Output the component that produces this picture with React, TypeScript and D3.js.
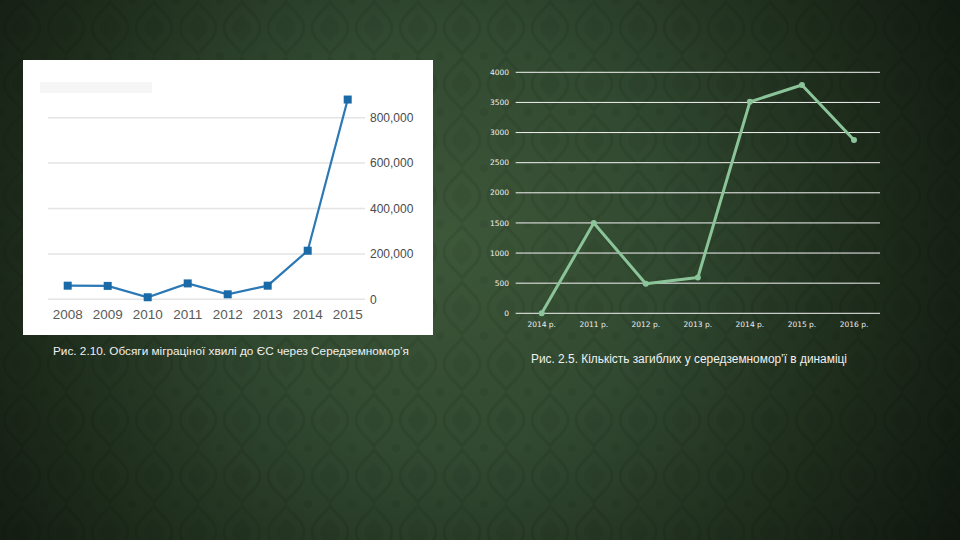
import React from 'react';
import * as d3 from 'd3';

const yearsL = ['2008', '2009', '2010', '2011', '2012', '2013', '2014', '2015'];
const arrivals = [60000, 59000, 9000, 70000, 22000, 60000, 214000, 880000];
const ticksL = [0, 200000, 400000, 600000, 800000];

const labelsR = ['2014 р.', '2011 р.', '2012 р.', '2013 р.', '2014 р.', '2015 р.', '2016 р.'];
const deaths = [0, 1500, 490, 595, 3510, 3790, 2875];
const ticksR = [0, 500, 1000, 1500, 2000, 2500, 3000, 3500, 4000];

const captionL = 'Рис. 2.10. Обсяги міграціної хвилі до ЄС через Середземномор’я';
const captionR = 'Рис. 2.5. Кількість загиблих у середземномор’ї в динаміці';

export default function App() {
  const xL = d3.scalePoint<string>().domain(yearsL).range([67.7, 347.7]);
  const yL = d3.scaleLinear().domain([0, 800000]).range([299.3, 117.7]);
  const lineL = d3
    .line<number>()
    .x((_, i) => xL(yearsL[i]) as number)
    .y((d) => yL(d));

  const idxR = d3.range(labelsR.length);
  const xR = d3.scalePoint<number>().domain(idxR).range([541.7, 854]);
  const yR = d3.scaleLinear().domain([0, 4000]).range([313.3, 72.3]);
  const lineR = d3
    .line<number>()
    .x((_, i) => xR(i) as number)
    .y((d) => yR(d));

  const fmt = d3.format(',');

  return (
    <svg
      width={960}
      height={540}
      viewBox="0 0 960 540"
      style={{ position: 'absolute', left: 0, top: 0, display: 'block' }}
    >
      <defs>
        <radialGradient id="vig" cx="450" cy="240" r="620" gradientUnits="userSpaceOnUse">
          <stop offset="0" stopColor="#3d5739" />
          <stop offset="0.35" stopColor="#314930" />
          <stop offset="0.65" stopColor="#1f2e1d" />
          <stop offset="1" stopColor="#0d130c" />
        </radialGradient>
        <pattern id="damask" width="44" height="56" patternUnits="userSpaceOnUse">
          <path
            d="M22 2 C30 12 40 18 40 28 C40 38 30 44 22 54 C14 44 4 38 4 28 C4 18 14 12 22 2 Z"
            fill="none"
            stroke="#000"
            strokeOpacity="0.08"
            strokeWidth="3"
          />
          <path
            d="M22 14 C27 20 32 24 32 28 C32 32 27 36 22 42 C17 36 12 32 12 28 C12 24 17 20 22 14 Z"
            fill="#000"
            fillOpacity="0.05"
          />
          <circle cx="0" cy="0" r="4" fill="#000" fillOpacity="0.06" />
          <circle cx="44" cy="0" r="4" fill="#000" fillOpacity="0.06" />
          <circle cx="0" cy="56" r="4" fill="#000" fillOpacity="0.06" />
          <circle cx="44" cy="56" r="4" fill="#000" fillOpacity="0.06" />
        </pattern>
      </defs>

      <rect x={0} y={0} width={960} height={540} fill="url(#vig)" />
      <rect x={0} y={0} width={960} height={540} fill="url(#damask)" />

      {/* Left image-chart */}
      <rect x={23} y={60} width={410} height={275} fill="#ffffff" />
      <rect x={40} y={82} width={112} height={11} fill="#f6f6f6" />
      <g>
        {ticksL.map((t) => (
          <g key={t}>
            <line x1={48} x2={365} y1={yL(t)} y2={yL(t)} stroke="#e4e4e4" strokeWidth={1.5} />
            <text
              x={370}
              y={yL(t)}
              dy="0.35em"
              fontSize={12}
              fontFamily="'Liberation Sans', Arial, sans-serif"
              fill="#4a4a4a"
            >
              {fmt(t)}
            </text>
          </g>
        ))}
        {yearsL.map((y) => (
          <text
            key={y}
            x={xL(y)}
            y={319}
            textAnchor="middle"
            fontSize={13.5}
            fontFamily="'Liberation Sans', Arial, sans-serif"
            fill="#5a5a5a"
          >
            {y}
          </text>
        ))}
        <path d={lineL(arrivals) || ''} fill="none" stroke="#2b78b4" strokeWidth={2.2} />
        {arrivals.map((v, i) => (
          <rect
            key={i}
            x={(xL(yearsL[i]) as number) - 4}
            y={yL(v) - 4}
            width={8}
            height={8}
            fill="#1a6aa8"
          />
        ))}
      </g>
      <text
        x={53}
        y={355}
        fontSize={11.5}
        fontFamily="'Liberation Sans Narrow', 'Liberation Sans', Arial, sans-serif"
        fill="#f0f0f0"
        textLength={356}
        lengthAdjust="spacingAndGlyphs"
      >
        {captionL}
      </text>

      {/* Right chart */}
      <g>
        {ticksR.map((t) => (
          <g key={t}>
            <line x1={515.7} x2={880} y1={yR(t)} y2={yR(t)} stroke="#f2f2f2" strokeWidth={1} />
            <text
              x={509}
              y={yR(t)}
              dy="0.35em"
              textAnchor="end"
              fontSize={7.5}
              fontFamily="'DejaVu Sans', sans-serif"
              fill="#f2f2f2"
            >
              {t}
            </text>
          </g>
        ))}
        {idxR.map((i) => (
          <text
            key={i}
            x={xR(i)}
            y={327}
            textAnchor="middle"
            fontSize={7.5}
            fontFamily="'DejaVu Sans', sans-serif"
            fill="#eeeeee"
          >
            {labelsR[i]}
          </text>
        ))}
        <path
          d={lineR(deaths) || ''}
          fill="none"
          stroke="#8cc49a"
          strokeWidth={3}
          strokeLinejoin="round"
        />
        {deaths.map((v, i) => (
          <circle key={i} cx={xR(i)} cy={yR(v)} r={3} fill="#8cc49a" />
        ))}
      </g>
      <text
        x={531}
        y={362.5}
        fontSize={12}
        fontFamily="'Liberation Sans Narrow', 'Liberation Sans', Arial, sans-serif"
        fill="#f0f0f0"
        textLength={316}
        lengthAdjust="spacingAndGlyphs"
      >
        {captionR}
      </text>
    </svg>
  );
}
